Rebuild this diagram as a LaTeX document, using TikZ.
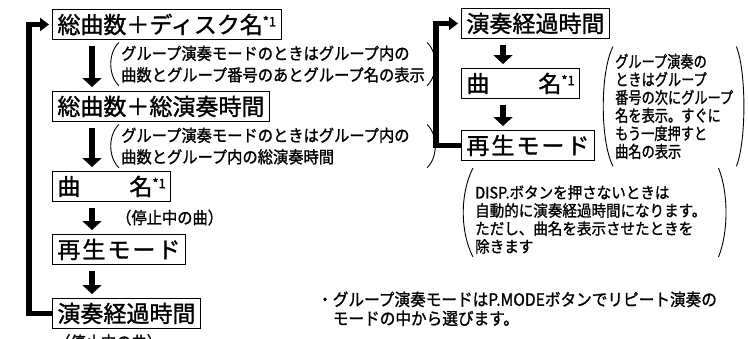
\documentclass[tikz,border=0pt]{standalone}
\usepackage{fontspec}
\setmainfont{Noto Sans CJK JP}[FakeBold=1.3]
\newfontfamily\condjp[FakeStretch=0.92,FakeBold=1.2]{Noto Sans CJK JP}
\newfontfamily\narrowjp[FakeStretch=0.8,FakeBold=1.2]{Noto Sans CJK JP}
\usetikzlibrary{arrows.meta}
\newcommand{\chuu}{\raisebox{7pt}{\fontsize{13}{13}\selectfont *1}}

\begin{document}
\begin{tikzpicture}[x=1pt,y=-1pt,
    dispbox/.style={draw,line width=0.9pt,anchor=north west,minimum height=30pt,
      inner xsep=5pt,inner ysep=0pt,font=\fontsize{23}{24}\selectfont},
    annot/.style={anchor=north west,inner xsep=2pt,inner ysep=3pt,align=left,
      font=\condjp\fontsize{16.6}{21.5}\selectfont},
    paren/.style={line width=0.9pt},
    downarrow/.style={line width=5.5pt,-{Triangle[width=19pt,length=9pt]},
      shorten <=6pt,shorten >=4pt},
    loopline/.style={line width=5.5pt,-{Triangle[width=13pt,length=9pt]},
      shorten >=3pt}]

\useasboundingbox (0,0) rectangle (748,338);

\node[dispbox] (total1) at (52,9) {総曲数＋ディスク名\chuu};
\node[dispbox] (total2) at (52,91) {総曲数＋総演奏時間};
\node[dispbox] (title) at (52,171) {曲　　\kern3pt 名\chuu};
\node[dispbox] (mode) at (52,234) {再\kern2pt 生\kern2pt モ\kern2pt ー\kern2pt ド};
\node[dispbox] (elapsed) at (52,298) {演奏経過時間};

\draw[downarrow] ([xshift=40pt]total1.south west) -- ([xshift=40pt]total2.north west);
\draw[downarrow] ([xshift=40pt]total2.south west) -- ([xshift=40pt]title.north west);
\draw[downarrow] ([xshift=40pt]title.south west) -- ([xshift=40pt]mode.north west);
\draw[downarrow] ([xshift=40pt]mode.south west) -- ([xshift=40pt]elapsed.north west);
\draw[loopline] (elapsed.west) -- ++(-23,0) |- (total1.west);

\node[annot] (grp1) at (119,42.5) {グループ演奏モードのときはグループ内の\\曲数とグループ番号のあとグループ名の表示};
\draw[paren] (grp1.north west) .. controls +(-11,10) and +(-11,-10) .. (grp1.south west);
\draw[paren] (grp1.north east) .. controls +(11,10) and +(11,-10) .. (grp1.south east);

\node[annot] (grp2) at (119,124.5) {グループ演奏モードのときはグループ内の\\曲数とグループ内の総演奏時間};
\draw[paren] (grp2.north west) .. controls +(-11,10) and +(-11,-10) .. (grp2.south west);
\draw[paren] (grp2.north -| grp1.east) .. controls +(11,10) and +(11,-10) .. (grp2.south -| grp1.east);

\node[annot,inner sep=0pt] (stop1) at (116,209.5) {（停止中の曲）};
\node[annot,inner sep=0pt] (stop2) at (55,334) {（停止中の曲）};

\node[dispbox] (relapsed) at (461,8) {演奏経過時間};
\node[dispbox] (rtitle) at (461,68) {曲　　\kern3pt 名\chuu};
\node[dispbox] (rmode) at (461,130) {再\kern2pt 生\kern2pt モ\kern2pt ー\kern2pt ド};

\draw[downarrow] ([xshift=42pt]relapsed.south west) -- ([xshift=42pt]rtitle.north west);
\draw[downarrow] ([xshift=42pt]rtitle.south west) -- ([xshift=42pt]rmode.north west);
\draw[loopline] (rmode.west) -- ++(-25,0) |- (relapsed.west);

\node[annot,inner ysep=7pt,font=\narrowjp\fontsize{16.5}{18}\selectfont] (grpname) at (613,46.6) {グループ演奏の\\ときはグループ\\番号の次にグループ\\名を表示。すぐに\\もう一度押すと\\曲名の表示};
\draw[paren] (grpname.north west) .. controls +(-13,25) and +(-13,-25) .. (grpname.south west);
\draw[paren] ([xshift=1pt]grpname.north east) .. controls +(10,25) and +(10,-25) .. ([xshift=1pt]grpname.south east);

\node[annot,font=\condjp\fontsize{15.8}{18}\selectfont] (disp) at (473,182) {DISP.ボタンを押さないときは\\自動的に演奏経過時間になります。\\ただし、曲名を表示させたときを\\除きます};
\draw[paren] ([yshift=14pt]disp.north west) .. controls +(-13,25) and +(-13,-25) .. (disp.south west);
\draw[paren] ([xshift=10pt,yshift=14pt]disp.north east) .. controls +(10,25) and +(10,-25) .. ([xshift=10pt]disp.south east);

\node[annot,inner sep=0pt,font=\condjp\fontsize{17}{19}\selectfont] (pmode) at (317,291.3) {・グループ演奏モードはP.MODEボタンでリピート演奏の\\\phantom{・}モードの中から選びます。};

\end{tikzpicture}
\end{document}
